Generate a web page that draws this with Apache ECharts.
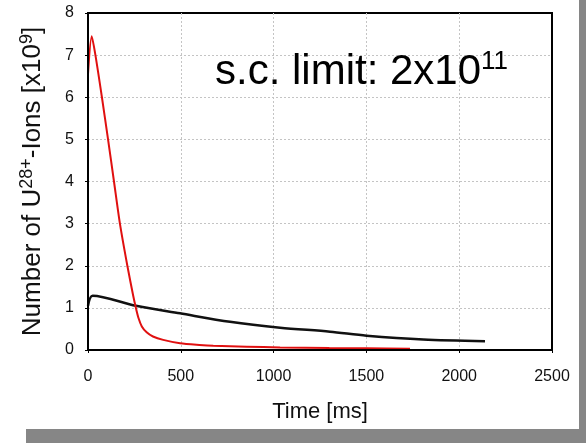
<!DOCTYPE html>
<html>
<head>
<meta charset="utf-8">
<script src="https://cdn.jsdelivr.net/npm/echarts@6/dist/echarts.min.js"></script>
<style>
  html, body { margin: 0; padding: 0; background: #fff; }
  #chart { width: 586px; height: 443px; }
</style>
</head>
<body>
<div id="chart"></div>
<script>
// values
var redTime = [0, 20, 40, 75, 108, 140, 172, 212, 243, 258, 272, 290, 316, 350, 405, 496, 600, 675, 855, 1035, 1300, 1500, 1735];
var redIons = [6.55, 7.45, 7.0, 6.0, 5.0, 4.0, 3.0, 2.0, 1.3, 1.0, 0.76, 0.56, 0.42, 0.32, 0.24, 0.16, 0.12, 0.10, 0.08, 0.06, 0.045, 0.04, 0.03];
var blackTime = [0, 25, 258, 496, 765, 1035, 1304, 1501, 1806, 2139];
var blackIons = [1.05, 1.29, 1.05, 0.87, 0.67, 0.53, 0.435, 0.34, 0.25, 0.21];

var FONT = "'Liberation Sans', Arial, sans-serif";

function pairs(xs, ys){
  var out = [];
  for (var i = 0; i < xs.length; i++) out.push([xs[i], ys[i]]);
  return out;
}

// top / right frame lines, drawn as bare axes so they sit above the dotted grid
var frameAxis = {
  z: 5,
  axisLine: {show: true, lineStyle: {color: '#000', width: 2}},
  axisTick: {show: false},
  axisLabel: {show: false},
  splitLine: {show: false}
};
var dotted = {show: true, showMinLine: false, showMaxLine: false,
  lineStyle: {color: '#c4c4c4', type: [2, 2], width: 1}};

var myChart = echarts.init(document.getElementById('chart'), null, {renderer: 'canvas'});
var option = {
  backgroundColor: '#fff',
  animation: false,
  title: {
    text: '{a|s.c. limit: 2x10}{b|11}',
    left: 210,
    top: 44,
    textStyle: {
      fontFamily: FONT,
      fontWeight: 'normal',
      rich: {
        a: {fontSize: 42, fontFamily: FONT, fontWeight: 'normal', color: '#000', lineHeight: 46},
        b: {fontSize: 26, fontFamily: FONT, fontWeight: 'normal', color: '#000', verticalAlign: 'top', lineHeight: 46}
      }
    }
  },
  graphic: [
    {type: 'rect', shape: {x: 579, y: 0, width: 7, height: 443}, style: {fill: '#868686'}},
    {type: 'rect', shape: {x: 26, y: 429, width: 560, height: 14}, style: {fill: '#868686'}}
  ],
  grid: {
    left: 88, right: 34, top: 13, bottom: 93,
    show: true,
    borderColor: '#000',
    borderWidth: 2,
    backgroundColor: '#fff'
  },
  xAxis: [{
    type: 'value',
    min: 0, max: 2500, interval: 500,
    name: 'Time [ms]',
    nameLocation: 'middle',
    nameGap: 51,
    nameTextStyle: {fontFamily: FONT, fontSize: 22, color: '#111'},
    axisLine: {show: true, lineStyle: {color: '#000', width: 2}},
    axisTick: {show: true, length: 3, lineStyle: {color: '#000'}},
    axisLabel: {fontFamily: FONT, fontSize: 16, color: '#111', margin: 19,
      formatter: function(v){ return String(v); }},
    splitLine: dotted
  }, Object.assign({type: 'value', position: 'top', min: 0, max: 2500}, frameAxis)],
  yAxis: [{
    type: 'value',
    min: 0, max: 8, interval: 1,
    name: 'Number of U{sup|28+}-Ions [x10{sup|9}]',
    nameLocation: 'middle',
    nameRotate: 90,
    nameGap: 40,
    nameTextStyle: {
      fontFamily: FONT, fontSize: 26, color: '#111', lineHeight: 30,
      rich: {
        sup: {fontFamily: FONT, fontSize: 18, color: '#111', verticalAlign: 'top', lineHeight: 30}
      }
    },
    axisLine: {show: true, lineStyle: {color: '#000', width: 2}},
    axisTick: {show: true, length: 3, lineStyle: {color: '#000'}},
    axisLabel: {fontFamily: FONT, fontSize: 16, color: '#111', margin: 14},
    splitLine: dotted
  }, Object.assign({type: 'value', position: 'right', min: 0, max: 8}, frameAxis)],
  series: [
    {
      name: 'red',
      type: 'line',
      data: pairs(redTime, redIons),
      smooth: 0.25,
      symbol: 'none',
      lineStyle: {color: '#e01010', width: 2},
      z: 3
    },
    {
      name: 'black',
      type: 'line',
      data: pairs(blackTime, blackIons),
      smooth: 0.3,
      symbol: 'none',
      lineStyle: {color: '#111', width: 2.5},
      z: 2
    }
  ]
};
myChart.setOption(option);
</script>
</body>
</html>
